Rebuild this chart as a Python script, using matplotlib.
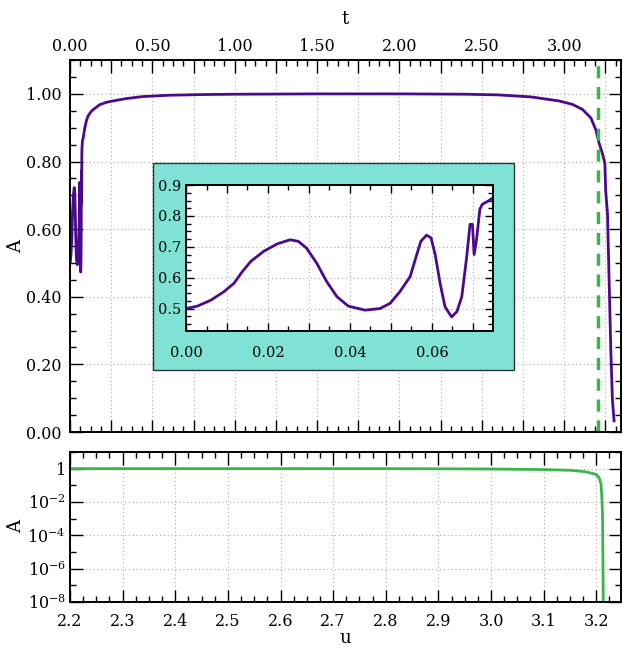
import numpy as np
import matplotlib
matplotlib.use("Agg")
import matplotlib.pyplot as plt
from matplotlib.ticker import MultipleLocator, FuncFormatter, LogLocator, NullFormatter
from matplotlib.patches import Rectangle

plt.rcParams['font.family'] = ['DejaVu Serif']
plt.rcParams['mathtext.fontset'] = 'dejavuserif'

# early oscillations (t < 0.075)
t_early = [0.0, 0.00276, 0.00602, 0.00927, 0.0117, 0.01375, 0.0158, 0.0190,
           0.0223, 0.0254, 0.0274, 0.0294, 0.0319, 0.0343, 0.0368, 0.0396,
           0.0437, 0.0473, 0.0498, 0.0522, 0.0547, 0.0563, 0.0573, 0.0587,
           0.0598, 0.0608, 0.0620, 0.0632, 0.0648, 0.0661, 0.0673, 0.0685,
           0.0693, 0.0699, 0.0703, 0.0709, 0.0717, 0.0723, 0.0738, 0.0750]
A_early = [0.500, 0.508, 0.527, 0.555, 0.582, 0.620, 0.653, 0.686,
           0.710, 0.723, 0.718, 0.696, 0.647, 0.588, 0.539, 0.508,
           0.495, 0.500, 0.517, 0.555, 0.604, 0.675, 0.718, 0.738,
           0.729, 0.675, 0.582, 0.506, 0.473, 0.490, 0.539, 0.669,
           0.773, 0.773, 0.675, 0.724, 0.822, 0.838, 0.849, 0.860]

# rest of the evolution
t_late = [0.08, 0.09, 0.10, 0.11, 0.13, 0.15, 0.18, 0.22, 0.26, 0.34, 0.44,
          0.6, 0.8, 1.0, 1.5, 2.0, 2.4, 2.6, 2.8, 2.97, 3.05, 3.111, 3.162,
          3.192, 3.212, 3.232, 3.247, 3.252, 3.263, 3.273, 3.283, 3.293, 3.303]
A_late = [0.870, 0.900, 0.922, 0.935, 0.949, 0.957, 0.968, 0.975, 0.979,
          0.986, 0.992, 0.996, 0.998, 0.999, 1.0, 1.0, 0.999, 0.997, 0.991,
          0.979, 0.969, 0.954, 0.929, 0.894, 0.854, 0.824, 0.794, 0.714,
          0.645, 0.444, 0.243, 0.094, 0.033]

t = np.array(t_early + t_late)
A = np.array(A_early + A_late)

t_crit = 3.208

# lower panel: A against u (log scale)
u = [2.2, 2.5, 2.8, 2.9, 3.0, 3.1, 3.15, 3.18, 3.2, 3.205, 3.209, 3.211,
     3.212, 3.2125, 3.213, 3.2135]
A_u = [1.0, 1.0, 1.0, 0.98, 0.95, 0.88, 0.80, 0.65, 0.45, 0.30, 0.12, 1e-2,
       1e-3, 1e-5, 1e-7, 1e-9]

purple = '#4b0a8c'
green = '#3ab54a'
teal = '#80e1d5'

fig = plt.figure(figsize=(6.23, 6.48), dpi=100)
ax = fig.add_axes([0.1124, 0.3333, 0.8844, 0.574])
ax2 = fig.add_axes([0.1124, 0.071, 0.8844, 0.2315])


def style(a, fs=11.5):
    a.tick_params(which='both', direction='in', top=True, right=True,
                  labelsize=fs, width=1.0)
    a.tick_params(which='major', length=9)
    a.tick_params(which='minor', length=4.5)
    for s in a.spines.values():
        s.set_linewidth(1.4)
    a.grid(True, which='major', linestyle=(0, (1, 2.5)), color='#aaaaaa',
           linewidth=0.8)


# main panel
ax.plot(t, A, color=purple, lw=2)
ax.axvline(t_crit, color=green, lw=2.5, ls=(0, (3.5, 2.5)))
ax.set_xlim(0, 3.345)
ax.set_ylim(0, 1.1)
ax.xaxis.set_major_locator(MultipleLocator(0.25))
ax.xaxis.set_minor_locator(MultipleLocator(0.0625))
ax.xaxis.set_major_formatter(FuncFormatter(
    lambda v, p: '%.2f' % v if abs(v / 0.5 - round(v / 0.5)) < 1e-6 else ''))
ax.yaxis.set_major_locator(MultipleLocator(0.2))
ax.yaxis.set_minor_locator(MultipleLocator(0.05))
ax.yaxis.set_major_formatter(FuncFormatter(lambda v, p: '%.2f' % v))
style(ax)
ax.tick_params(labeltop=True, labelbottom=False)
ax.tick_params(axis='y', pad=6)
ax.xaxis.set_label_position('top')
ax.set_xlabel('t', fontsize=13, labelpad=10)
ax.set_ylabel('A', fontsize=13, labelpad=1)

# teal frame behind the inset
ax.add_patch(Rectangle((0.2456, 0.429), 0.5795, 0.3194, transform=fig.transFigure,
                       facecolor=teal, edgecolor='#333333', lw=1.0, zorder=5,
                       clip_on=False))

ins = fig.add_axes([0.2986, 0.489, 0.492, 0.2253])
ins.set_zorder(10)
ins.plot(t, A, color=purple, lw=2)
ins.set_xlim(0, 0.0748)
ins.set_ylim(0.427, 0.9)
ins.xaxis.set_major_locator(MultipleLocator(0.01))
ins.xaxis.set_minor_locator(MultipleLocator(0.005))
ins.xaxis.set_major_formatter(FuncFormatter(
    lambda v, p: '%.2f' % v if abs(v / 0.02 - round(v / 0.02)) < 1e-6 else ''))
ins.yaxis.set_major_locator(MultipleLocator(0.1))
ins.yaxis.set_minor_locator(MultipleLocator(0.025))
ins.yaxis.set_major_formatter(FuncFormatter(lambda v, p: '%.1f' % v))
style(ins, fs=10.5)
ins.tick_params(which='major', length=6)
ins.tick_params(which='minor', length=3.5)
ins.tick_params(axis='x', pad=11)

# lower panel
ax2.plot(u, A_u, color=green, lw=2)
ax2.set_yscale('log')
ax2.set_xlim(2.2, 3.247)
ax2.set_ylim(1e-8, 10)
ax2.xaxis.set_major_locator(MultipleLocator(0.1))
ax2.xaxis.set_minor_locator(MultipleLocator(0.025))
ax2.xaxis.set_major_formatter(FuncFormatter(lambda v, p: '%.1f' % v))
ax2.yaxis.set_major_locator(LogLocator(base=100, numticks=10))
ax2.yaxis.set_minor_locator(LogLocator(base=10, subs=(1.0,), numticks=20))
ax2.yaxis.set_minor_formatter(NullFormatter())
ax2.yaxis.set_major_formatter(FuncFormatter(
    lambda v, p: '1' if abs(v - 1) < 1e-9 else r'$10^{%d}$' % round(np.log10(v))))
style(ax2)
ax2.tick_params(axis='x', pad=8)
ax2.tick_params(axis='y', pad=3)
ax2.set_xlabel('u', fontsize=13, labelpad=-1)
ax2.set_ylabel('A', fontsize=13, labelpad=2)

fig.savefig('out.png', dpi=100)
